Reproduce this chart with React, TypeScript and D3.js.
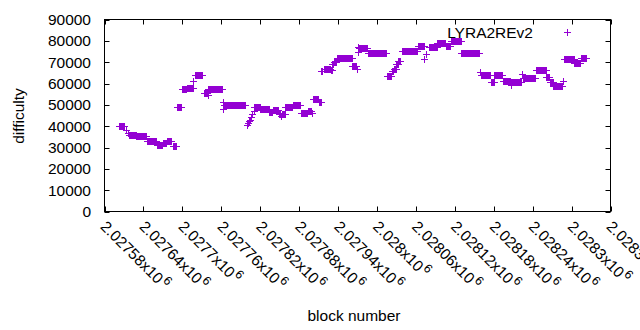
import React from 'react';
import * as d3 from 'd3';

// runs of consecutive blocks that share one difficulty
const blockFrom = [
  2027603, 2027613, 2027616, 2027617, 2027629, 2027645, 2027661, 2027670, 2027676, 2027685,
  2027692, 2027700, 2027707, 2027717, 2027720, 2027733, 2027739, 2027740, 2027762, 2027763,
  2027764, 2027799, 2027801, 2027802, 2027804, 2027806, 2027808, 2027810, 2027811, 2027820,
  2027834, 2027839, 2027849, 2027852, 2027853, 2027859, 2027870, 2027883, 2027893, 2027900,
  2027901, 2027910, 2027914, 2027918, 2027929, 2027931, 2027934, 2027938, 2027962, 2027969,
  2027970, 2027971, 2027972, 2027986, 2028015, 2028023, 2028026, 2028030, 2028033, 2028039,
  2028063, 2028073, 2028075, 2028080, 2028093, 2028107, 2028114, 2028130, 2028159, 2028160,
  2028176, 2028181, 2028194, 2028206, 2028207, 2028224, 2028225, 2028245, 2028261, 2028266,
  2028272, 2028287, 2028288, 2028304, 2028314,
];
const blockTo = [
  2027610, 2027613, 2027616, 2027628, 2027644, 2027659, 2027669, 2027675, 2027683, 2027690,
  2027698, 2027706, 2027716, 2027717, 2027731, 2027738, 2027739, 2027761, 2027762, 2027763,
  2027796, 2027799, 2027801, 2027802, 2027804, 2027806, 2027808, 2027810, 2027819, 2027833,
  2027838, 2027848, 2027851, 2027852, 2027858, 2027869, 2027882, 2027892, 2027898, 2027900,
  2027909, 2027913, 2027916, 2027928, 2027930, 2027933, 2027937, 2027961, 2027968, 2027969,
  2027970, 2027971, 2027985, 2028014, 2028022, 2028025, 2028029, 2028032, 2028036, 2028062,
  2028072, 2028073, 2028075, 2028092, 2028105, 2028113, 2028129, 2028158, 2028159, 2028175,
  2028180, 2028193, 2028205, 2028206, 2028222, 2028224, 2028244, 2028260, 2028265, 2028271,
  2028286, 2028287, 2028303, 2028313, 2028322,
];
const difficulty = [
  40200, 38300, 37000, 36000, 35500, 33000, 31000, 32200, 33200, 30600,
  49000, 57300, 58100, 61400, 64000, 55700, 54400, 57500, 51200, 48100,
  50000, 40700, 41600, 42500, 43000, 44200, 45800, 47300, 49200, 48100,
  46600, 47700, 45700, 44600, 45700, 49200, 49700, 46300, 47300, 46000,
  52500, 51300, 65800, 66900, 66100, 69200, 70200, 72000, 68300, 66600,
  77000, 74700, 76700, 74400, 63500, 66000, 67000, 69000, 70600, 75200,
  77700, 71600, 73900, 77300, 78800, 77500, 80100, 74100, 65300, 64100,
  60900, 63800, 61200, 59300, 60800, 64500, 62800, 66100, 63000, 60500,
  58900, 61400, 71500, 69700, 71900,
];

const xTicks = [
  2027580, 2027640, 2027700, 2027760, 2027820, 2027880, 2027940,
  2028000, 2028060, 2028120, 2028180, 2028240, 2028300, 2028360,
];
const xTickLabels = [
  '2.02758', '2.02764', '2.0277', '2.02776', '2.02782', '2.02788', '2.02794',
  '2.028', '2.02806', '2.02812', '2.02818', '2.02824', '2.0283', '2.02836',
];
const yTicks = [0, 10000, 20000, 30000, 40000, 50000, 60000, 70000, 80000, 90000];

const seriesName = 'LYRA2REv2';
const purple = '#9400d3';
const font = '"Liberation Sans", Arial, sans-serif';

export default function App() {
  const left = 104.5, right = 610.5, top = 19.5, bottom = 211.5;
  const x = d3.scaleLinear().domain([2027580, 2028360]).range([left, right]);
  const y = d3.scaleLinear().domain([0, 90000]).range([bottom, top]);

  const cross = (px: number, py: number) => {
    const cx = Math.round(px) + 0.5, cy = Math.round(py) + 0.5;
    return `M${cx - 3.5},${cy}H${cx + 3.5}M${cx},${cy - 3.5}V${cy + 3.5}`;
  };

  let pts = '';
  blockFrom.forEach((b0, i) => {
    for (let b = b0; b <= blockTo[i]; b++) pts += cross(x(b), y(difficulty[i]));
  });

  const tl = 5;
  return (
    <svg width={640} height={330} style={{ position: 'absolute', left: 0, top: 0, background: '#fff' }}
      fontFamily={font} fontSize={15.5}>
      {yTicks.map((t) => (
        <g key={t}>
          <line x1={left} x2={left + tl} y1={Math.round(y(t)) + 0.5} y2={Math.round(y(t)) + 0.5} stroke="#000" />
          <line x1={right - tl} x2={right} y1={Math.round(y(t)) + 0.5} y2={Math.round(y(t)) + 0.5} stroke="#000" />
          <text x={91} y={y(t)} textAnchor="end" dominantBaseline="central">{t}</text>
        </g>
      ))}
      {xTicks.map((t, i) => (
        <g key={t}>
          <line x1={Math.round(x(t)) + 0.5} x2={Math.round(x(t)) + 0.5} y1={bottom} y2={bottom - tl} stroke="#000" />
          <line x1={Math.round(x(t)) + 0.5} x2={Math.round(x(t)) + 0.5} y1={top} y2={top + tl} stroke="#000" />
          <text transform={`translate(${x(t) - 1},${bottom + 12}) rotate(45)`} dominantBaseline="central">
            {xTickLabels[i]}x10<tspan dx={1.5} dy={-5} fontSize={12.4}>6</tspan>
          </text>
        </g>
      ))}
      <rect x={left} y={top} width={right - left} height={bottom - top} fill="none" stroke="#000" />
      <path d={pts} stroke={purple} strokeWidth={1} fill="none" />
      <text x={533} y={32} textAnchor="end" dominantBaseline="central">{seriesName}</text>
      <path d={cross(566.5, 32)} stroke={purple} fill="none" />
      <text transform="translate(18,116) rotate(-90)" textAnchor="middle" dominantBaseline="central">difficulty</text>
      <text x={354} y={315} textAnchor="middle" dominantBaseline="central">block number</text>
    </svg>
  );
}
